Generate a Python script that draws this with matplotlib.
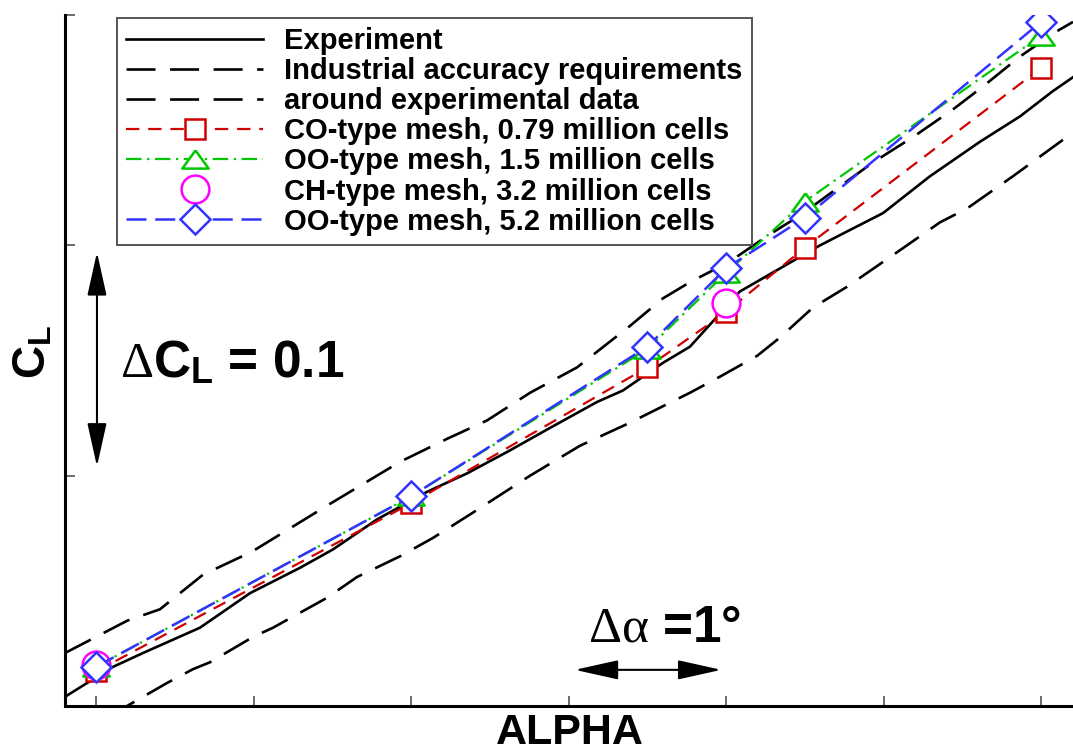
import numpy as np
import matplotlib.pyplot as plt

plt.rcParams['font.family'] = ['Liberation Sans', 'DejaVu Sans']
plt.rcParams['mathtext.fontset'] = 'custom'
plt.rcParams['mathtext.rm'] = 'Liberation Serif'
plt.rcParams['mathtext.it'] = 'Liberation Serif:italic'
plt.rcParams['mathtext.bf'] = 'Liberation Sans:bold'

# experimental lift curve
exp_alpha = [-0.197, 0.108, 0.298, 0.660, 0.978, 1.295, 1.505, 1.784, 2.102, 2.356,
             2.629, 2.863, 3.181, 3.346, 3.600, 3.771, 4.089, 4.343, 4.597, 4.768,
             4.997, 5.295, 5.613, 5.867, 6.076, 6.203]
exp_cl = [0.304, 0.317, 0.323, 0.334, 0.349, 0.360, 0.368, 0.381, 0.393, 0.401,
          0.411, 0.420, 0.432, 0.437, 0.449, 0.456, 0.480, 0.490, 0.500, 0.506,
          0.514, 0.530, 0.545, 0.556, 0.567, 0.573]

# accuracy band, upper and lower limit
hi_alpha = [-0.197, 0.197, 0.406, 0.679, 0.990, 1.467, 1.930, 2.229, 2.483, 2.756,
            3.054, 3.390, 3.600, 3.771, 4.025, 4.260, 4.470, 4.933, 5.187, 5.441,
            5.632, 5.867, 6.102, 6.203]
hi_cl = [0.323, 0.337, 0.342, 0.357, 0.367, 0.387, 0.406, 0.416, 0.424, 0.436,
         0.447, 0.465, 0.477, 0.484, 0.493, 0.504, 0.513, 0.536, 0.547, 0.559,
         0.569, 0.582, 0.593, 0.597]
lo_alpha = [0.10, 0.197, 0.451, 0.616, 0.724, 0.997, 1.124, 1.467, 1.657, 1.930,
            2.140, 2.394, 2.756, 3.073, 3.390, 3.771, 3.962, 4.197, 4.343, 4.552,
            4.768, 5.086, 5.359, 5.530, 5.822, 6.203]
lo_cl = [0.294, 0.300, 0.310, 0.316, 0.319, 0.330, 0.334, 0.347, 0.356, 0.365,
         0.373, 0.384, 0.400, 0.413, 0.423, 0.436, 0.443, 0.452, 0.460, 0.473,
         0.482, 0.497, 0.510, 0.516, 0.530, 0.549]

# CFD results
alpha_co = [0, 2, 3.5, 4, 4.5, 6]
cl_co = [0.315, 0.388, 0.447, 0.471, 0.499, 0.577]
alpha_oo1 = [0, 2, 3.5, 4, 4.5, 6]
cl_oo1 = [0.317, 0.391, 0.455, 0.488, 0.519, 0.591]
alpha_ch = [0, 4]
cl_ch = [0.318, 0.475]
alpha_oo2 = [0, 2, 3.5, 4, 4.5, 6]
cl_oo2 = [0.317, 0.391, 0.456, 0.490, 0.512, 0.597]

labels = ['Experiment', 'Industrial accuracy requirements', 'around experimental data',
          'CO-type mesh, 0.79 million cells', 'OO-type mesh, 1.5 million cells',
          'CH-type mesh, 3.2 million cells', 'OO-type mesh, 5.2 million cells']

tri = [(0, 0.69), (-1, -0.69), (1, -0.69), (0, 0.69)]

fig = plt.figure(figsize=(10.73, 7.54), dpi=100)
ax = fig.add_axes([65 / 1073, 48 / 754, 1008 / 1073, 691 / 754])

ax.plot(exp_alpha, exp_cl, color='black', lw=1.9, label=labels[0])
ax.plot(hi_alpha, hi_cl, color='black', lw=1.9, dashes=(11, 5.5), label=labels[1])
ax.plot(lo_alpha, lo_cl, color='black', lw=1.9, dashes=(11, 5.5), label=labels[2])
ax.plot(alpha_co, cl_co, color='#d00000', lw=1.6, dashes=(6, 4), marker='s', ms=15,
        mfc='white', mew=1.8, label=labels[3])
ax.plot(alpha_oo1, cl_oo1, color='#00c800', lw=1.6, dashes=(7, 2.5, 1, 2.5), marker=tri,
        ms=19, mfc='white', mew=1.8, label=labels[4])
ax.plot(alpha_ch, cl_ch, color='#ff00ff', ls='none', marker='o', ms=20,
        mfc='white', mew=1.8, label=labels[5])
ax.plot(alpha_oo2, cl_oo2, color='#3333ff', lw=1.8, dashes=(8, 3.5), marker='D', ms=15,
        mfc='white', mew=1.8, label=labels[6])

ax.set_xlim(-0.197, 6.203)
ax.set_ylim(0.3, 0.6)
ax.set_xticks(np.arange(0, 7))
ax.set_yticks([0.3, 0.4, 0.5, 0.6])
ax.tick_params(direction='in', length=7, width=1.1, color='#444444',
               labelbottom=False, labelleft=False)
for side in ['top', 'right']:
    ax.spines[side].set_visible(False)
for side in ['left', 'bottom']:
    ax.spines[side].set_linewidth(2.2)

leg = ax.legend(loc='upper left', bbox_to_anchor=(0.0516, 0.9957), borderaxespad=0,
                prop={'weight': 'bold', 'size': 21}, labelspacing=0.07,
                handlelength=4.7, handletextpad=0.7, borderpad=0.32, numpoints=1,
                fancybox=False, framealpha=1)
leg.get_frame().set_edgecolor('#555555')
leg.get_frame().set_linewidth(1.4)

# scale arrows
ax.annotate('', xy=(0.006, 0.404), xytext=(0.006, 0.497),
            arrowprops=dict(arrowstyle='<|-|>,head_length=2.7,head_width=0.6',
                            mutation_scale=10, color='black', lw=1.5,
                            shrinkA=0, shrinkB=0))
ax.annotate('', xy=(3.04, 0.3157), xytext=(3.97, 0.3157),
            arrowprops=dict(arrowstyle='<|-|>,head_length=2.7,head_width=0.6',
                            mutation_scale=10, color='black', lw=1.5,
                            shrinkA=0, shrinkB=0))
ax.text(0.152, 0.443, r'$\Delta\mathbf{C}_{\mathbf{L}}$ = 0.1', fontsize=37,
        fontweight='bold', va='baseline', ha='left')
ax.text(3.124, 0.328, r'$\Delta\mathrm{\alpha}$ =1°', fontsize=37,
        fontweight='bold', va='baseline', ha='left')

fig.text(570 / 1073, 1 - 753 / 754, 'ALPHA', fontsize=31, fontweight='bold',
         ha='center', va='bottom')
fig.text(34 / 1073, 1 - 352 / 754, r'$\mathbf{C}_{\mathbf{L}}$', fontsize=33,
         rotation=90, ha='center', va='center')

fig.savefig('out.png', dpi=100)
